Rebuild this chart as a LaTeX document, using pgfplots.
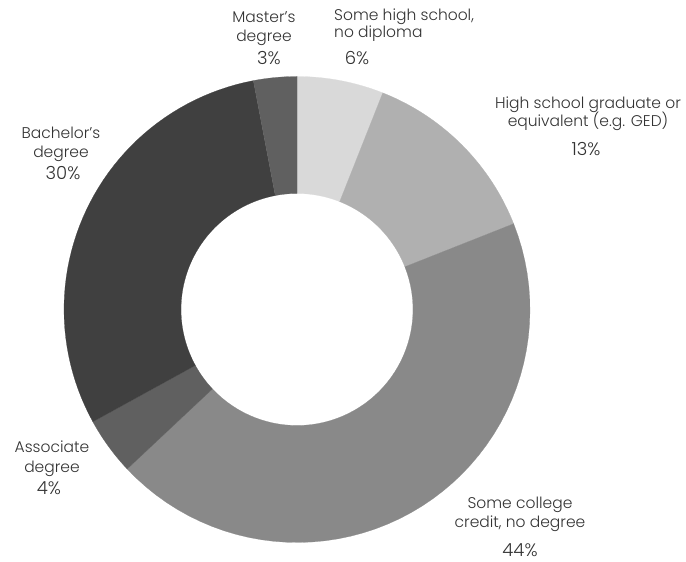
\documentclass[border=0pt]{standalone}
\usepackage{pgfplots}
\pgfplotsset{compat=1.18}
\usepackage{pgfplotstable}
\usepackage{fontspec}
\setmainfont{Poppins}[UprightFont=* Light]
\definecolor{s0}{HTML}{D9D9D9}
\definecolor{s1}{HTML}{B0B0B0}
\definecolor{s2}{HTML}{898989}
\definecolor{s3}{HTML}{606060}
\definecolor{s4}{HTML}{404040}
\definecolor{s5}{HTML}{606060}
\definecolor{txt}{HTML}{333333}
\pgfplotstableread{
label value
SomeHS 6
HSgrad 13
SomeCollege 44
Associate 4
Bachelor 30
Master 3
}\shares
\begin{document}
\begin{tikzpicture}
\begin{axis}[hide axis, scale only axis, width=686bp, height=562bp,
  xmin=0, xmax=686, ymin=0, ymax=562, clip=false]
\def\cx{297}\def\cy{252.5}\def\R{233}\def\r{116}
\xdef\cum{0}
\pgfplotsforeachungrouped \i in {0,...,5}{%
  \pgfplotstablegetelem{\i}{value}\of\shares
  \pgfmathsetmacro\a{90-3.6*\cum}%
  \pgfmathsetmacro\b{90-3.6*(\cum+\pgfplotsretval)}%
  \pgfmathsetmacro\newcum{\cum+\pgfplotsretval}%
  \xdef\cum{\newcum}%
  \edef\doplot{\noexpand\addplot[fill=s\i, draw=s\i, line width=0.2pt, variable=\noexpand\t, samples at={0,1,...,101}]
    ({\cx+(\r+(\R-\r)*(\noexpand\t<50.5))*cos(ifthenelse(\noexpand\t<50.5, \a+(\b-\a)*\noexpand\t/50, \b-(\b-\a)*(\noexpand\t-51)/50))},
     {\cy+(\r+(\R-\r)*(\noexpand\t<50.5))*sin(ifthenelse(\noexpand\t<50.5, \a+(\b-\a)*\noexpand\t/50, \b-(\b-\a)*(\noexpand\t-51)/50))}) -- cycle;}%
  \doplot
}
\begin{scope}[every node/.style={font=\fontsize{15.5bp}{18bp}\selectfont, text=txt, anchor=base, inner sep=0pt},
  pct/.style={font=\fontsize{18bp}{20bp}\selectfont}]
% Master's degree
\node at (axis cs:264,539) {Master’s};
\node at (axis cs:264,520) {degree};
\node[pct] at (axis cs:269,497) {3\%};
% Some high school
\node[anchor=base west] at (axis cs:334,541) {Some high school,};
\node[anchor=base west] at (axis cs:334,524) {no diploma};
\node[pct] at (axis cs:357,497) {6\%};
% HS graduate
\node at (axis cs:588,453) {High school graduate or};
\node at (axis cs:588,435) {equivalent (e.g. GED)};
\node[pct] at (axis cs:586,406) {13\%};
% Some college
\node at (axis cs:520,53) {Some college};
\node at (axis cs:520,34) {credit, no degree};
\node[pct] at (axis cs:520,6) {44\%};
% Associate
\node at (axis cs:52,109) {Associate};
\node at (axis cs:52,89) {degree};
\node[pct] at (axis cs:49,67) {4\%};
% Bachelor
\node at (axis cs:61,423) {Bachelor’s};
\node at (axis cs:61,404) {degree};
\node[pct] at (axis cs:63,382) {30\%};
\end{scope}
\end{axis}
\pgfresetboundingbox
\path (current axis.south west) rectangle (current axis.north east);
\end{tikzpicture}
\end{document}
